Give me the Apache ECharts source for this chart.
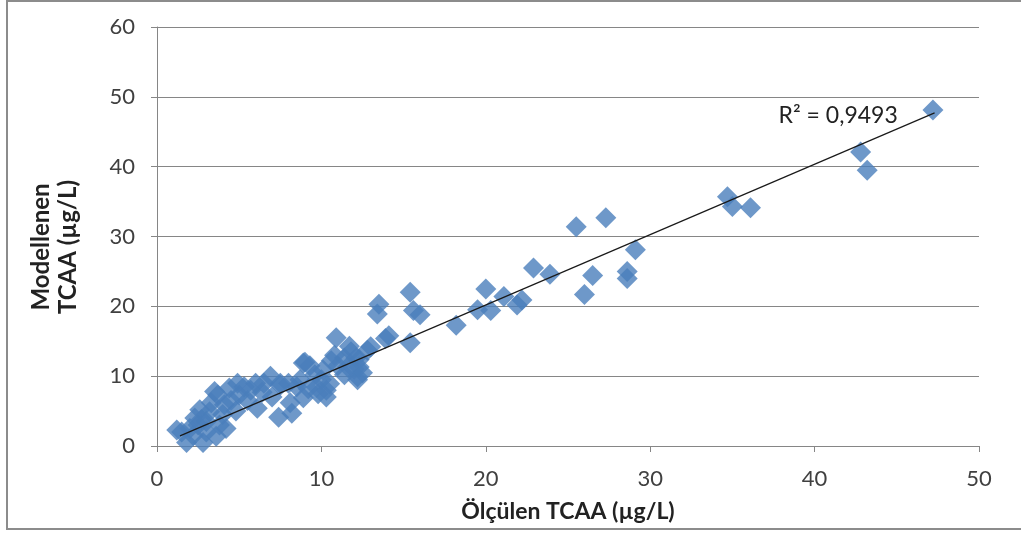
<!DOCTYPE html>
<html><head><meta charset="utf-8">
<script src="https://cdn.jsdelivr.net/npm/echarts@6/dist/echarts.min.js"></script>
<style>html,body{margin:0;padding:0;background:#fff}#c{width:1021px;height:535px}</style>
</head><body><div id="c"></div>
<script>
// Measured TCAA (x) values
const measured = [
47.2,42.8,43.2,34.7,35.0,36.1,25.5,27.3,29.1,28.6,28.6,26.5,26.0,22.9,23.9,20.0,21.1,22.2,21.9,19.5,20.3,18.2,15.4,15.6,16.0,15.4,13.5,13.4,13.9,14.1,
1.2,1.8,2.8,2.3,2.6,3.2,3.6,3.8,3.7,4.1,4.4,4.9,5.0,5.7,6.1,6.4,6.9,7.5,7.4,8.2,8.9,9.0,8.7,9.6,10.1,10.3,10.5,10.9,10.8,11.4,11.7,11.4,12.3,12.2,13.0,
2.0,2.5,3.0,3.3,4.5,4.8,5.5,6.0,7.0,8.5,9.2,10.0,11.0,12.0,12.5,3.0,2.2,4.0,5.3,6.5,9.8,11.8,12.1,1.5,2.7,4.2,3.5,8.0,9.3,10.6,
12.8,12.2,10.3,8.9,8.1,9.7,12.3,11.6,7.5
];
// Modelled TCAA (y) values
const modelled = [
48.1,42.1,39.5,35.7,34.3,34.1,31.4,32.7,28.1,25.0,24.0,24.4,21.7,25.5,24.6,22.5,21.4,20.9,20.2,19.5,19.4,17.3,22.0,19.4,18.8,14.8,20.3,18.9,15.4,15.8,
2.3,0.5,0.5,4.0,5.2,4.9,1.4,3.0,7.3,5.9,8.3,9.0,7.3,8.0,5.4,7.7,10.0,8.7,4.1,4.7,6.9,12.0,9.5,10.2,10.9,7.0,8.9,15.5,13.0,12.6,14.3,10.2,12.4,9.5,14.2,
2.5,3.0,3.5,6.2,6.5,5.0,6.5,9.0,7.0,8.5,8.2,9.5,11.5,11.0,10.5,2.0,1.5,4.5,8.5,9.0,7.5,13.5,12.6,2.0,3.8,2.5,7.8,9.0,11.5,12.2,
13.7,9.9,8.0,11.9,6.2,8.4,11.3,11.3,9.0
];
// Linear trendline endpoints
const trendX = [1.4, 47.3];
const trendY = [1.45, 47.7];
const xTicks = [0,10,20,30,40,50];
const yTicks = [0,10,20,30,40,50,60];
const r2Label = 'R² = 0,9493';
const xTitle = 'Ölçülen TCAA (µg/L)';
const yTitle = 'Modellenen\nTCAA (µg/L)';

const pts = measured.map((x,i)=>[x, modelled[i]]);
const trend = trendX.map((x,i)=>[x, trendY[i]]);

const chart = echarts.init(document.getElementById('c'));
const FONT = 'Lato';
chart.setOption({
  animation:false,
  graphic:[
    {type:'rect',shape:{x:7,y:1,width:1030,height:528},style:{fill:'none',stroke:'#8c8c8c',lineWidth:2},silent:true},
    {type:'text',x:55,y:247,rotation:Math.PI/2,silent:true,
     style:{text:yTitle,fill:'#222',font:'bold 24px Lato',textAlign:'center',textVerticalAlign:'middle',lineHeight:27}}
  ],
  grid:{left:157,right:42,top:27,bottom:89},
  xAxis:{type:'value',min:0,max:50,interval:10,
    axisLine:{show:true,lineStyle:{color:'#868686',width:1}},
    axisTick:{show:true,length:6,lineStyle:{color:'#868686'}},
    splitLine:{show:false},
    axisLabel:{color:'#404040',fontFamily:FONT,fontSize:22,margin:22,formatter:v=>xTicks.includes(v)?String(v):''},
    name:xTitle,nameLocation:'middle',nameGap:54,
    nameTextStyle:{color:'#222',fontFamily:FONT,fontSize:23,fontWeight:'bold'}},
  yAxis:{type:'value',min:0,max:60,interval:10,
    axisLine:{show:true,lineStyle:{color:'#868686',width:1}},
    axisTick:{show:true,length:6,lineStyle:{color:'#868686'}},
    splitLine:{show:true,lineStyle:{color:'#868686',width:1}},
    axisLabel:{color:'#404040',fontFamily:FONT,fontSize:22,margin:22,formatter:v=>yTicks.includes(v)?String(v):''}},
  series:[
    {type:'scatter',data:pts,symbol:'diamond',symbolSize:21,
     itemStyle:{color:'#4a7ebb',borderWidth:0},z:2},
    {type:'line',data:trend,symbol:'none',lineStyle:{color:'#1a1a1a',width:1.2},z:3,
     endLabel:{show:true,formatter:r2Label,color:'#222',fontFamily:FONT,fontSize:23,offset:[-164,3]}}
  ]
});
</script></body></html>
